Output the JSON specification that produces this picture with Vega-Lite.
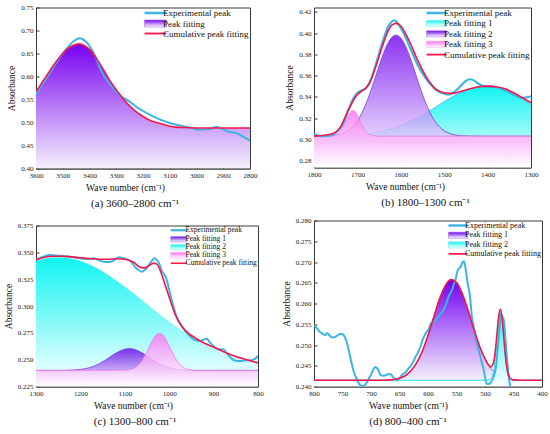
{
  "$schema": "https://vega.github.io/schema/vega-lite/v6.json",
  "background": "white",
  "padding": {"left": 2, "top": 2.5, "right": 0, "bottom": 0},
  "config": {
    "font": "Liberation Serif",
    "view": {"stroke": "#3a3a3a", "strokeWidth": 1},
    "axis": {
      "labelFont": "Liberation Serif", "labelFontSize": 7, "labelColor": "#222",
      "titleFont": "Liberation Serif", "titleFontSize": 9.5, "titleFontWeight": "normal", "titleColor": "#111",
      "grid": false, "domainColor": "#3a3a3a", "tickColor": "#3a3a3a", "tickSize": -3,
      "labelPadding": 6, "labelFlush": false, "labelOverlap": false, "titlePadding": 4
    },
    "legend": {"labelFont": "Liberation Serif", "labelColor": "#111", "orient": "top-right", "offset": 1, "padding": 0, "labelOffset": 3, "symbolOffset": 0},
    "title": {"font": "Liberation Serif", "fontSize": 11, "fontWeight": "normal", "color": "#111", "orient": "bottom", "offset": 6, "frame": "group"}
  },
  "datasets": {
    "a_exp": [
      {"x": 3600, "y": 0.561}, {"x": 3575, "y": 0.584}, {"x": 3550, "y": 0.606}, {"x": 3525, "y": 0.629},
      {"x": 3500, "y": 0.650}, {"x": 3480, "y": 0.664}, {"x": 3465, "y": 0.674}, {"x": 3450, "y": 0.680},
      {"x": 3438, "y": 0.683}, {"x": 3425, "y": 0.681}, {"x": 3410, "y": 0.674}, {"x": 3395, "y": 0.662},
      {"x": 3380, "y": 0.646}, {"x": 3360, "y": 0.617}, {"x": 3340, "y": 0.596}, {"x": 3320, "y": 0.580},
      {"x": 3300, "y": 0.567}, {"x": 3280, "y": 0.556}, {"x": 3260, "y": 0.549}, {"x": 3240, "y": 0.541},
      {"x": 3220, "y": 0.532}, {"x": 3200, "y": 0.525}, {"x": 3175, "y": 0.517}, {"x": 3150, "y": 0.510},
      {"x": 3125, "y": 0.504}, {"x": 3100, "y": 0.499}, {"x": 3075, "y": 0.495}, {"x": 3050, "y": 0.492},
      {"x": 3025, "y": 0.489}, {"x": 3000, "y": 0.485}, {"x": 2990, "y": 0.484}, {"x": 2975, "y": 0.485},
      {"x": 2950, "y": 0.486}, {"x": 2935, "y": 0.489}, {"x": 2925, "y": 0.491}, {"x": 2915, "y": 0.489},
      {"x": 2900, "y": 0.485}, {"x": 2880, "y": 0.480}, {"x": 2860, "y": 0.478}, {"x": 2850, "y": 0.477},
      {"x": 2840, "y": 0.474}, {"x": 2820, "y": 0.467}, {"x": 2800, "y": 0.461}
    ],
    "a_fit": [
      {"x": 3600, "y": 0.567}, {"x": 3575, "y": 0.589}, {"x": 3550, "y": 0.611}, {"x": 3525, "y": 0.632},
      {"x": 3500, "y": 0.650}, {"x": 3475, "y": 0.663}, {"x": 3450, "y": 0.670}, {"x": 3440, "y": 0.671},
      {"x": 3425, "y": 0.669}, {"x": 3400, "y": 0.659}, {"x": 3375, "y": 0.640}, {"x": 3350, "y": 0.617},
      {"x": 3325, "y": 0.592}, {"x": 3300, "y": 0.571}, {"x": 3275, "y": 0.552}, {"x": 3250, "y": 0.536},
      {"x": 3225, "y": 0.523}, {"x": 3200, "y": 0.513}, {"x": 3175, "y": 0.505}, {"x": 3150, "y": 0.500},
      {"x": 3125, "y": 0.496}, {"x": 3100, "y": 0.492}, {"x": 3075, "y": 0.490}, {"x": 3050, "y": 0.489},
      {"x": 3000, "y": 0.488}, {"x": 2900, "y": 0.488}, {"x": 2800, "y": 0.488}
    ],
    "b_exp": [
      {"x": 1800, "y": 0.305}, {"x": 1790, "y": 0.3035}, {"x": 1780, "y": 0.303}, {"x": 1760, "y": 0.304},
      {"x": 1750, "y": 0.306}, {"x": 1740, "y": 0.310}, {"x": 1730, "y": 0.317}, {"x": 1720, "y": 0.328},
      {"x": 1710, "y": 0.338}, {"x": 1700, "y": 0.3435}, {"x": 1690, "y": 0.346}, {"x": 1680, "y": 0.348},
      {"x": 1670, "y": 0.355}, {"x": 1660, "y": 0.367}, {"x": 1650, "y": 0.381}, {"x": 1640, "y": 0.394},
      {"x": 1630, "y": 0.4055}, {"x": 1620, "y": 0.411}, {"x": 1615, "y": 0.412}, {"x": 1610, "y": 0.4105},
      {"x": 1600, "y": 0.4045}, {"x": 1590, "y": 0.397}, {"x": 1580, "y": 0.3875}, {"x": 1570, "y": 0.378},
      {"x": 1560, "y": 0.369}, {"x": 1550, "y": 0.362}, {"x": 1540, "y": 0.356}, {"x": 1530, "y": 0.351},
      {"x": 1520, "y": 0.347}, {"x": 1510, "y": 0.3445}, {"x": 1500, "y": 0.343}, {"x": 1490, "y": 0.342},
      {"x": 1480, "y": 0.3435}, {"x": 1470, "y": 0.347}, {"x": 1460, "y": 0.351}, {"x": 1450, "y": 0.355},
      {"x": 1440, "y": 0.3565}, {"x": 1430, "y": 0.355}, {"x": 1420, "y": 0.352}, {"x": 1410, "y": 0.350},
      {"x": 1400, "y": 0.3495}, {"x": 1390, "y": 0.3495}, {"x": 1380, "y": 0.349}, {"x": 1370, "y": 0.3475},
      {"x": 1360, "y": 0.346}, {"x": 1350, "y": 0.344}, {"x": 1340, "y": 0.342}, {"x": 1330, "y": 0.340},
      {"x": 1320, "y": 0.339}, {"x": 1310, "y": 0.3395}, {"x": 1300, "y": 0.3405}
    ],
    "b_cum": [
      {"x": 1800, "y": 0.303}, {"x": 1760, "y": 0.305}, {"x": 1740, "y": 0.311}, {"x": 1720, "y": 0.3283},
      {"x": 1700, "y": 0.3422}, {"x": 1690, "y": 0.3453}, {"x": 1680, "y": 0.3485}, {"x": 1670, "y": 0.3547},
      {"x": 1660, "y": 0.3656}, {"x": 1640, "y": 0.3905}, {"x": 1630, "y": 0.4013}, {"x": 1620, "y": 0.4076},
      {"x": 1610, "y": 0.4091}, {"x": 1600, "y": 0.4066}, {"x": 1580, "y": 0.392}, {"x": 1560, "y": 0.3733},
      {"x": 1540, "y": 0.3578}, {"x": 1520, "y": 0.3475}, {"x": 1500, "y": 0.3438}, {"x": 1480, "y": 0.3432},
      {"x": 1460, "y": 0.3453}, {"x": 1440, "y": 0.3475}, {"x": 1420, "y": 0.3494}, {"x": 1400, "y": 0.350},
      {"x": 1380, "y": 0.3494}, {"x": 1360, "y": 0.3475}, {"x": 1340, "y": 0.3438}, {"x": 1320, "y": 0.3391},
      {"x": 1300, "y": 0.3345}
    ],
    "b_p1": [
      {"x": 1800, "y": 0.3031}, {"x": 1750, "y": 0.3033}, {"x": 1700, "y": 0.3043}, {"x": 1680, "y": 0.3051},
      {"x": 1660, "y": 0.3062}, {"x": 1640, "y": 0.3078}, {"x": 1620, "y": 0.3100}, {"x": 1600, "y": 0.3128},
      {"x": 1580, "y": 0.3163}, {"x": 1560, "y": 0.3204}, {"x": 1540, "y": 0.3251}, {"x": 1520, "y": 0.3302},
      {"x": 1500, "y": 0.3354}, {"x": 1480, "y": 0.3403}, {"x": 1460, "y": 0.3445}, {"x": 1440, "y": 0.3477},
      {"x": 1420, "y": 0.3496}, {"x": 1405, "y": 0.3500}, {"x": 1380, "y": 0.3488}, {"x": 1360, "y": 0.3462},
      {"x": 1340, "y": 0.3425}, {"x": 1320, "y": 0.3379}, {"x": 1300, "y": 0.3330}
    ],
    "b_p2": [
      {"x": 1800, "y": 0.3030}, {"x": 1760, "y": 0.3035}, {"x": 1740, "y": 0.3048}, {"x": 1720, "y": 0.3086},
      {"x": 1700, "y": 0.3174}, {"x": 1690, "y": 0.3245}, {"x": 1680, "y": 0.3336}, {"x": 1670, "y": 0.3445},
      {"x": 1660, "y": 0.3566}, {"x": 1650, "y": 0.3691}, {"x": 1640, "y": 0.3808}, {"x": 1630, "y": 0.3902},
      {"x": 1620, "y": 0.3962}, {"x": 1611, "y": 0.3980}, {"x": 1600, "y": 0.3953}, {"x": 1590, "y": 0.3885},
      {"x": 1580, "y": 0.3786}, {"x": 1570, "y": 0.3667}, {"x": 1560, "y": 0.3541}, {"x": 1550, "y": 0.3422},
      {"x": 1540, "y": 0.3316}, {"x": 1530, "y": 0.3229}, {"x": 1520, "y": 0.3162}, {"x": 1510, "y": 0.3114},
      {"x": 1500, "y": 0.3081}, {"x": 1480, "y": 0.3046}, {"x": 1460, "y": 0.3034}, {"x": 1440, "y": 0.3031},
      {"x": 1400, "y": 0.3030}, {"x": 1300, "y": 0.3030}
    ],
    "b_p3": [
      {"x": 1800, "y": 0.3030}, {"x": 1770, "y": 0.3030}, {"x": 1760, "y": 0.3032}, {"x": 1750, "y": 0.3041},
      {"x": 1740, "y": 0.3071}, {"x": 1735, "y": 0.3101}, {"x": 1730, "y": 0.3140}, {"x": 1725, "y": 0.3185},
      {"x": 1720, "y": 0.3227}, {"x": 1715, "y": 0.3259}, {"x": 1710, "y": 0.3270}, {"x": 1705, "y": 0.3259},
      {"x": 1700, "y": 0.3227}, {"x": 1695, "y": 0.3185}, {"x": 1690, "y": 0.3140}, {"x": 1685, "y": 0.3101},
      {"x": 1680, "y": 0.3071}, {"x": 1670, "y": 0.3041}, {"x": 1660, "y": 0.3032}, {"x": 1650, "y": 0.3030},
      {"x": 1300, "y": 0.3030}
    ],
    "c_exp": [
      {"x": 1300, "y": 0.343}, {"x": 1290, "y": 0.345}, {"x": 1280, "y": 0.3465}, {"x": 1270, "y": 0.3475},
      {"x": 1255, "y": 0.347}, {"x": 1240, "y": 0.3465}, {"x": 1225, "y": 0.346}, {"x": 1210, "y": 0.345},
      {"x": 1195, "y": 0.344}, {"x": 1180, "y": 0.3438}, {"x": 1170, "y": 0.3445}, {"x": 1160, "y": 0.343},
      {"x": 1150, "y": 0.3415}, {"x": 1140, "y": 0.341}, {"x": 1130, "y": 0.3415}, {"x": 1120, "y": 0.344},
      {"x": 1113, "y": 0.3455}, {"x": 1105, "y": 0.3448}, {"x": 1095, "y": 0.3435}, {"x": 1085, "y": 0.341},
      {"x": 1078, "y": 0.337}, {"x": 1070, "y": 0.3338}, {"x": 1062, "y": 0.332}, {"x": 1055, "y": 0.3335},
      {"x": 1048, "y": 0.337}, {"x": 1040, "y": 0.3415}, {"x": 1034, "y": 0.3445}, {"x": 1028, "y": 0.343},
      {"x": 1022, "y": 0.339}, {"x": 1016, "y": 0.332}, {"x": 1010, "y": 0.329}, {"x": 1005, "y": 0.3235},
      {"x": 1000, "y": 0.315}, {"x": 995, "y": 0.3065}, {"x": 990, "y": 0.299}, {"x": 985, "y": 0.292},
      {"x": 980, "y": 0.287}, {"x": 975, "y": 0.2835}, {"x": 970, "y": 0.280}, {"x": 965, "y": 0.2775},
      {"x": 960, "y": 0.275}, {"x": 950, "y": 0.2705}, {"x": 940, "y": 0.268}, {"x": 930, "y": 0.2675},
      {"x": 923, "y": 0.2685}, {"x": 916, "y": 0.2695}, {"x": 910, "y": 0.267}, {"x": 905, "y": 0.2645},
      {"x": 900, "y": 0.2625}, {"x": 893, "y": 0.2605}, {"x": 885, "y": 0.2595}, {"x": 878, "y": 0.2598},
      {"x": 872, "y": 0.257}, {"x": 865, "y": 0.2535}, {"x": 858, "y": 0.2505}, {"x": 850, "y": 0.249},
      {"x": 840, "y": 0.2488}, {"x": 830, "y": 0.2492}, {"x": 820, "y": 0.2495}, {"x": 812, "y": 0.2498},
      {"x": 806, "y": 0.251}, {"x": 800, "y": 0.2535}
    ],
    "c_cum": [
      {"x": 1300, "y": 0.343}, {"x": 1280, "y": 0.3455}, {"x": 1260, "y": 0.3464}, {"x": 1240, "y": 0.3464},
      {"x": 1220, "y": 0.3458}, {"x": 1200, "y": 0.3449}, {"x": 1180, "y": 0.3442}, {"x": 1160, "y": 0.3436},
      {"x": 1140, "y": 0.3436}, {"x": 1120, "y": 0.344}, {"x": 1100, "y": 0.3436}, {"x": 1080, "y": 0.3408},
      {"x": 1065, "y": 0.336}, {"x": 1055, "y": 0.3355}, {"x": 1045, "y": 0.3377}, {"x": 1035, "y": 0.3399},
      {"x": 1028, "y": 0.339}, {"x": 1020, "y": 0.333}, {"x": 1010, "y": 0.3207}, {"x": 1000, "y": 0.3082},
      {"x": 990, "y": 0.2958}, {"x": 980, "y": 0.2865}, {"x": 970, "y": 0.2803}, {"x": 960, "y": 0.2756},
      {"x": 950, "y": 0.2725}, {"x": 925, "y": 0.2663}, {"x": 900, "y": 0.2616}, {"x": 875, "y": 0.257},
      {"x": 850, "y": 0.253}, {"x": 825, "y": 0.2499}, {"x": 800, "y": 0.247}
    ],
    "c_p1": [
      {"x": 1300, "y": 0.240}, {"x": 1240, "y": 0.240}, {"x": 1230, "y": 0.2401}, {"x": 1200, "y": 0.2409},
      {"x": 1180, "y": 0.2425}, {"x": 1160, "y": 0.2457}, {"x": 1140, "y": 0.2506}, {"x": 1120, "y": 0.2561},
      {"x": 1100, "y": 0.2598}, {"x": 1090, "y": 0.2603}, {"x": 1080, "y": 0.2598}, {"x": 1060, "y": 0.2561},
      {"x": 1040, "y": 0.2506}, {"x": 1020, "y": 0.2457}, {"x": 1000, "y": 0.2425}, {"x": 980, "y": 0.2409},
      {"x": 960, "y": 0.2401}, {"x": 940, "y": 0.240}, {"x": 800, "y": 0.240}
    ],
    "c_p2": [
      {"x": 1300, "y": 0.3420}, {"x": 1275, "y": 0.3446}, {"x": 1250, "y": 0.3455}, {"x": 1225, "y": 0.3446},
      {"x": 1200, "y": 0.3420}, {"x": 1175, "y": 0.3378}, {"x": 1150, "y": 0.3322}, {"x": 1125, "y": 0.3255},
      {"x": 1100, "y": 0.3180}, {"x": 1075, "y": 0.3100}, {"x": 1050, "y": 0.3017}, {"x": 1025, "y": 0.2935},
      {"x": 1000, "y": 0.2856}, {"x": 975, "y": 0.2782}, {"x": 950, "y": 0.2715}, {"x": 925, "y": 0.2656},
      {"x": 900, "y": 0.2604}, {"x": 875, "y": 0.2560}, {"x": 850, "y": 0.2523}, {"x": 825, "y": 0.2493},
      {"x": 800, "y": 0.2470}
    ],
    "c_p3": [
      {"x": 1300, "y": 0.240}, {"x": 1100, "y": 0.2402}, {"x": 1080, "y": 0.2419}, {"x": 1070, "y": 0.2447},
      {"x": 1060, "y": 0.2499}, {"x": 1050, "y": 0.2575}, {"x": 1040, "y": 0.2660}, {"x": 1030, "y": 0.2726},
      {"x": 1022, "y": 0.2745}, {"x": 1015, "y": 0.2731}, {"x": 1005, "y": 0.2668}, {"x": 995, "y": 0.2583},
      {"x": 985, "y": 0.2505}, {"x": 975, "y": 0.2451}, {"x": 965, "y": 0.2421}, {"x": 950, "y": 0.2404},
      {"x": 940, "y": 0.240}, {"x": 800, "y": 0.240}
    ],
    "d_exp": [
      {"x": 800, "y": 0.2547}, {"x": 798, "y": 0.2545}, {"x": 790, "y": 0.2532}, {"x": 786, "y": 0.2528},
      {"x": 780, "y": 0.2524}, {"x": 777, "y": 0.2529}, {"x": 772, "y": 0.2522}, {"x": 768, "y": 0.2518},
      {"x": 762, "y": 0.2520}, {"x": 757, "y": 0.2525}, {"x": 752, "y": 0.2527}, {"x": 748, "y": 0.2524},
      {"x": 742, "y": 0.2504}, {"x": 736, "y": 0.2468}, {"x": 730, "y": 0.2435}, {"x": 725, "y": 0.2418},
      {"x": 721, "y": 0.2407}, {"x": 716, "y": 0.2401}, {"x": 711, "y": 0.2403}, {"x": 707, "y": 0.2411},
      {"x": 703, "y": 0.2421}, {"x": 699, "y": 0.2431}, {"x": 695, "y": 0.2443}, {"x": 693, "y": 0.2447},
      {"x": 689, "y": 0.2444}, {"x": 686, "y": 0.2436}, {"x": 683, "y": 0.2427}, {"x": 678, "y": 0.2426},
      {"x": 674, "y": 0.2427}, {"x": 669, "y": 0.2430}, {"x": 665, "y": 0.2429}, {"x": 662, "y": 0.2424},
      {"x": 659, "y": 0.2419}, {"x": 654, "y": 0.2415}, {"x": 650, "y": 0.2420}, {"x": 646, "y": 0.2427},
      {"x": 642, "y": 0.2432}, {"x": 639, "y": 0.2435}, {"x": 634, "y": 0.2444}, {"x": 630, "y": 0.2450},
      {"x": 628, "y": 0.2455}, {"x": 625, "y": 0.2462}, {"x": 622, "y": 0.2471}, {"x": 619, "y": 0.2478},
      {"x": 616, "y": 0.2487}, {"x": 613, "y": 0.2497}, {"x": 610, "y": 0.2511}, {"x": 607, "y": 0.2520},
      {"x": 604, "y": 0.2528}, {"x": 601, "y": 0.2534}, {"x": 598, "y": 0.2540}, {"x": 596, "y": 0.2550},
      {"x": 593, "y": 0.2553}, {"x": 590, "y": 0.2555}, {"x": 587, "y": 0.2558}, {"x": 583, "y": 0.2565},
      {"x": 579, "y": 0.2572}, {"x": 575, "y": 0.2580}, {"x": 570, "y": 0.2592}, {"x": 567, "y": 0.2604},
      {"x": 564, "y": 0.2616}, {"x": 561, "y": 0.2624}, {"x": 558, "y": 0.2632}, {"x": 555, "y": 0.2645},
      {"x": 552, "y": 0.2656}, {"x": 548, "y": 0.2680}, {"x": 545, "y": 0.2685}, {"x": 543, "y": 0.2688},
      {"x": 539, "y": 0.2700}, {"x": 537, "y": 0.2702}, {"x": 535, "y": 0.2692}, {"x": 532, "y": 0.2664},
      {"x": 530, "y": 0.2645}, {"x": 527, "y": 0.2624}, {"x": 525, "y": 0.2598}, {"x": 523, "y": 0.2568},
      {"x": 520, "y": 0.2545}, {"x": 517, "y": 0.2519}, {"x": 514, "y": 0.2503}, {"x": 511, "y": 0.2487},
      {"x": 508, "y": 0.2471}, {"x": 505, "y": 0.2455}, {"x": 502, "y": 0.2439}, {"x": 500, "y": 0.2423},
      {"x": 497, "y": 0.2407}, {"x": 494, "y": 0.2406}, {"x": 491, "y": 0.2408}, {"x": 488, "y": 0.2414},
      {"x": 485, "y": 0.2423}, {"x": 482, "y": 0.2438}, {"x": 480, "y": 0.2455}, {"x": 478, "y": 0.2488},
      {"x": 476, "y": 0.2519}, {"x": 474, "y": 0.2550}, {"x": 472, "y": 0.2576}, {"x": 470, "y": 0.2570},
      {"x": 467, "y": 0.2560}, {"x": 465, "y": 0.2530}, {"x": 463, "y": 0.2495}, {"x": 461, "y": 0.2462},
      {"x": 459, "y": 0.2431}, {"x": 457, "y": 0.2410}, {"x": 454, "y": 0.2391}, {"x": 451, "y": 0.2370},
      {"x": 448, "y": 0.2350}
    ],
    "d_cum": [
      {"x": 800, "y": 0.2415}, {"x": 680, "y": 0.2415}, {"x": 660, "y": 0.2417}, {"x": 650, "y": 0.2420},
      {"x": 640, "y": 0.2426}, {"x": 630, "y": 0.2438}, {"x": 620, "y": 0.2457}, {"x": 610, "y": 0.2485},
      {"x": 600, "y": 0.2523}, {"x": 590, "y": 0.2567}, {"x": 580, "y": 0.2610}, {"x": 570, "y": 0.2642},
      {"x": 560, "y": 0.2658}, {"x": 550, "y": 0.2651}, {"x": 540, "y": 0.2624}, {"x": 530, "y": 0.2585},
      {"x": 520, "y": 0.2540}, {"x": 510, "y": 0.2499}, {"x": 500, "y": 0.2467}, {"x": 490, "y": 0.2447},
      {"x": 485, "y": 0.2458}, {"x": 482, "y": 0.2485}, {"x": 479, "y": 0.2527}, {"x": 476, "y": 0.2569},
      {"x": 473, "y": 0.2586}, {"x": 470, "y": 0.2565}, {"x": 467, "y": 0.2518}, {"x": 464, "y": 0.2472},
      {"x": 461, "y": 0.2440}, {"x": 456, "y": 0.2420}, {"x": 450, "y": 0.2416}, {"x": 440, "y": 0.2415},
      {"x": 400, "y": 0.2415}
    ],
    "d_p1": [
      {"x": 800, "y": 0.2415}, {"x": 680, "y": 0.2415}, {"x": 660, "y": 0.2417}, {"x": 650, "y": 0.2420},
      {"x": 640, "y": 0.2426}, {"x": 630, "y": 0.2438}, {"x": 620, "y": 0.2457}, {"x": 610, "y": 0.2485},
      {"x": 600, "y": 0.2523}, {"x": 590, "y": 0.2567}, {"x": 580, "y": 0.2610}, {"x": 570, "y": 0.2642},
      {"x": 560, "y": 0.2658}, {"x": 550, "y": 0.2651}, {"x": 540, "y": 0.2624}, {"x": 530, "y": 0.2585},
      {"x": 520, "y": 0.2540}, {"x": 510, "y": 0.2499}, {"x": 500, "y": 0.2467}, {"x": 490, "y": 0.2444},
      {"x": 480, "y": 0.2430}, {"x": 470, "y": 0.2422}, {"x": 460, "y": 0.2418}, {"x": 450, "y": 0.2416},
      {"x": 440, "y": 0.2415}, {"x": 400, "y": 0.2415}
    ],
    "d_p2": [
      {"x": 800, "y": 0.2415}, {"x": 500, "y": 0.2415}, {"x": 490, "y": 0.2418}, {"x": 485, "y": 0.2437},
      {"x": 482, "y": 0.2468}, {"x": 479, "y": 0.2513}, {"x": 476, "y": 0.2558}, {"x": 473, "y": 0.2577},
      {"x": 470, "y": 0.2558}, {"x": 467, "y": 0.2513}, {"x": 464, "y": 0.2468}, {"x": 461, "y": 0.2437},
      {"x": 456, "y": 0.2418}, {"x": 450, "y": 0.2415}, {"x": 400, "y": 0.2415}
    ]
  },
  "resolve": {"scale": {"color": "independent"}, "legend": {"color": "independent"}},
  "spacing": 16,
  "hconcat": [
    {
      "bounds": "flush",
      "spacing": 57,
      "resolve": {"scale": {"color": "independent"}, "legend": {"color": "independent"}},
      "vconcat": [
        {
          "width": 214,
          "height": 161,
          "title": {"text": "(a) 3600–2800 cm⁻¹", "dx": -8},
          "layer": [
            {
              "data": {"name": "a_fit"},
              "mark": {"type": "area", "clip": true, "interpolate": "monotone", "opacity": 1,
                "fill": {"gradient": "linear", "x1": 0, "y1": 0, "x2": 0, "y2": 1, "stops": [{"offset": 0, "color": "#7800f0"}, {"offset": 1, "color": "#f6f1fd"}]}},
              "encoding": {
                "x": {"field": "x", "type": "quantitative", "scale": {"domain": [2800, 3600], "reverse": true, "nice": false, "zero": false},
                  "axis": {"values": [3600, 3500, 3400, 3300, 3200, 3100, 3000, 2900, 2800], "tickCount": 20, "format": "d", "title": "Wave number (cm⁻¹)", "titleX": 89, "labelOverlap": false, "labelFlush": false}},
                "y": {"field": "y", "type": "quantitative", "stack": null, "scale": {"domain": [0.4, 0.75], "nice": false, "zero": false},
                  "axis": {"values": [0.4, 0.45, 0.5, 0.55, 0.6, 0.65, 0.7, 0.75], "tickCount": 20, "format": ".2f", "title": "Absorbance", "labelOverlap": false, "labelFlush": false}}
              }
            },
            {
              "data": {"name": "a_exp"},
              "mark": {"type": "line", "clip": true, "interpolate": "monotone", "strokeWidth": 2},
              "encoding": {
                "x": {"field": "x", "type": "quantitative"},
                "y": {"field": "y", "type": "quantitative"},
                "color": {"datum": "Experimental peak",
                  "scale": {"domain": ["Experimental peak", "Peak fitting", "Cumulative peak fitting"], "range": ["#3cb4e5", "#a27ae8", "#f5174a"]},
                  "legend": {"title": null, "labelFontSize": 9, "symbolSize": 484, "rowPadding": -0.5,
                    "symbolType": {"expr": "datum.value == 'Peak fitting' ? 'M-1,-0.32H1V0.32H-1Z' : 'stroke'"},
                    "symbolFillColor": {"expr": "datum.value == 'Peak fitting' ? {'gradient':'linear','x1':0,'y1':0,'x2':0,'y2':1,'stops':[{'offset':0,'color':'#7800f0'},{'offset':1,'color':'#ffffff'}]} : 'transparent'"},
                    "symbolStrokeWidth": {"expr": "datum.value == 'Experimental peak' ? 2.5 : datum.value == 'Cumulative peak fitting' ? 1.8 : 0.6"}}
                }
              }
            },
            {
              "data": {"name": "a_fit"},
              "mark": {"type": "line", "clip": true, "interpolate": "monotone", "strokeWidth": 1.6},
              "encoding": {
                "x": {"field": "x", "type": "quantitative"},
                "y": {"field": "y", "type": "quantitative"},
                "color": {"datum": "Cumulative peak fitting"}
              }
            }
          ]
        },
        {
          "width": 222,
          "height": 161,
          "title": {"text": "(c) 1300–800 cm⁻¹", "dx": -12},
          "layer": [
            {
              "data": {"name": "c_p2"},
              "mark": {"type": "area", "clip": true, "interpolate": "monotone", "opacity": 1,
                "fill": {"gradient": "linear", "x1": 0, "y1": 0, "x2": 0, "y2": 1, "stops": [{"offset": 0, "color": "#10f4f2"}, {"offset": 1, "color": "#ffffff"}]}},
              "encoding": {
                "x": {"field": "x", "type": "quantitative", "scale": {"domain": [800, 1300], "reverse": true, "nice": false, "zero": false},
                  "axis": {"values": [1300, 1200, 1100, 1000, 900, 800], "tickCount": 20, "format": "d", "title": "Wave number (cm⁻¹)", "titleX": 97, "labelOverlap": false, "labelFlush": false}},
                "y": {"field": "y", "type": "quantitative", "stack": null, "scale": {"domain": [0.225, 0.375], "nice": false, "zero": false},
                  "axis": {"values": [0.225, 0.25, 0.275, 0.3, 0.325, 0.35, 0.375], "tickCount": 20, "format": ".3f", "title": "Absorbance", "labelOverlap": false, "labelFlush": false}}
              }
            },
            {
              "data": {"name": "c_p1"},
              "mark": {"type": "area", "clip": true, "interpolate": "monotone", "opacity": 0.85, "line": {"color": "#7440d8", "strokeWidth": 0.8},
                "fill": {"gradient": "linear", "x1": 0, "y1": 0, "x2": 0, "y2": 1, "stops": [{"offset": 0, "color": "#6a10e8"}, {"offset": 1, "color": "#ffffff"}]}},
              "encoding": {"x": {"field": "x", "type": "quantitative"}, "y": {"field": "y", "type": "quantitative", "stack": null}}
            },
            {
              "data": {"name": "c_p3"},
              "mark": {"type": "area", "clip": true, "interpolate": "monotone", "opacity": 0.8, "line": {"color": "#f07ae8", "strokeWidth": 0.8},
                "fill": {"gradient": "linear", "x1": 0, "y1": 0, "x2": 0, "y2": 1, "stops": [{"offset": 0, "color": "#ff6ff2"}, {"offset": 1, "color": "#ffffff"}]}},
              "encoding": {"x": {"field": "x", "type": "quantitative"}, "y": {"field": "y", "type": "quantitative", "stack": null}}
            },
            {
              "data": {"name": "c_exp"},
              "mark": {"type": "line", "clip": true, "interpolate": "monotone", "strokeWidth": 2},
              "encoding": {
                "x": {"field": "x", "type": "quantitative"},
                "y": {"field": "y", "type": "quantitative"},
                "color": {"datum": "Experimental peak",
                  "scale": {"domain": ["Experimental peak", "Peak fitting 1", "Peak fitting 2", "Peak fitting 3", "Cumulative peak fitting"], "range": ["#3cb4e5", "#a27ae8", "#7ee6f0", "#f7a8ef", "#f5174a"]},
                  "legend": {"title": null, "labelFontSize": 7.5, "symbolSize": 256, "rowPadding": -1.9,
                    "symbolType": {"expr": "indexof(datum.value, 'Peak') == 0 ? 'M-1,-0.34H1V0.34H-1Z' : 'stroke'"},
                    "symbolFillColor": {"expr": "datum.value == 'Peak fitting 1' ? {'gradient':'linear','x1':0,'y1':0,'x2':0,'y2':1,'stops':[{'offset':0,'color':'#6a10e8'},{'offset':1,'color':'#ffffff'}]} : datum.value == 'Peak fitting 2' ? {'gradient':'linear','x1':0,'y1':0,'x2':0,'y2':1,'stops':[{'offset':0,'color':'#10f4f2'},{'offset':1,'color':'#ffffff'}]} : datum.value == 'Peak fitting 3' ? {'gradient':'linear','x1':0,'y1':0,'x2':0,'y2':1,'stops':[{'offset':0,'color':'#ff6ff2'},{'offset':1,'color':'#ffffff'}]} : 'transparent'"},
                    "symbolStrokeWidth": {"expr": "datum.value == 'Experimental peak' ? 2.2 : datum.value == 'Cumulative peak fitting' ? 1.6 : 0.6"}}
                }
              }
            },
            {
              "data": {"name": "c_cum"},
              "mark": {"type": "line", "clip": true, "interpolate": "monotone", "strokeWidth": 1.6},
              "encoding": {
                "x": {"field": "x", "type": "quantitative"},
                "y": {"field": "y", "type": "quantitative"},
                "color": {"datum": "Cumulative peak fitting"}
              }
            }
          ]
        }
      ]
    },
    {
      "bounds": "flush",
      "spacing": 53,
      "resolve": {"scale": {"color": "independent"}, "legend": {"color": "independent"}},
      "vconcat": [
        {
          "width": 217,
          "height": 160,
          "title": {"text": "(b) 1800–1300 cm⁻¹", "dx": 3},
          "layer": [
            {
              "data": {"name": "b_p1"},
              "mark": {"type": "area", "clip": true, "interpolate": "monotone", "opacity": 1, "line": {"color": "#3cb4e5", "strokeWidth": 0.8},
                "fill": {"gradient": "linear", "x1": 0, "y1": 0, "x2": 0, "y2": 1, "stops": [{"offset": 0, "color": "#10f4f2"}, {"offset": 1, "color": "#ffffff"}]}},
              "encoding": {
                "x": {"field": "x", "type": "quantitative", "scale": {"domain": [1300, 1800], "reverse": true, "nice": false, "zero": false},
                  "axis": {"values": [1800, 1700, 1600, 1500, 1400, 1300], "tickCount": 20, "format": "d", "title": "Wave number (cm⁻¹)", "titleX": 91, "labelOverlap": false, "labelFlush": false}},
                "y": {"field": "y", "type": "quantitative", "stack": null, "scale": {"domain": [0.2735, 0.424], "nice": false, "zero": false},
                  "axis": {"values": [0.28, 0.3, 0.32, 0.34, 0.36, 0.38, 0.4, 0.42], "tickCount": 20, "format": ".2f", "title": "Absorbance", "labelOverlap": false, "labelFlush": false}}
              }
            },
            {
              "data": {"name": "b_p2"},
              "mark": {"type": "area", "clip": true, "interpolate": "monotone", "opacity": 0.8, "line": {"color": "#7440d8", "strokeWidth": 0.8},
                "fill": {"gradient": "linear", "x1": 0, "y1": 0, "x2": 0, "y2": 1, "stops": [{"offset": 0, "color": "#7000f0"}, {"offset": 1, "color": "#ffffff"}]}},
              "encoding": {"x": {"field": "x", "type": "quantitative"}, "y": {"field": "y", "type": "quantitative", "stack": null}}
            },
            {
              "data": {"name": "b_p3"},
              "mark": {"type": "area", "clip": true, "interpolate": "monotone", "opacity": 0.8, "line": {"color": "#f07ae8", "strokeWidth": 0.8},
                "fill": {"gradient": "linear", "x1": 0, "y1": 0, "x2": 0, "y2": 1, "stops": [{"offset": 0, "color": "#ff6ff2"}, {"offset": 1, "color": "#ffffff"}]}},
              "encoding": {"x": {"field": "x", "type": "quantitative"}, "y": {"field": "y", "type": "quantitative", "stack": null}}
            },
            {
              "data": {"name": "b_exp"},
              "mark": {"type": "line", "clip": true, "interpolate": "monotone", "strokeWidth": 2.2},
              "encoding": {
                "x": {"field": "x", "type": "quantitative"},
                "y": {"field": "y", "type": "quantitative"},
                "color": {"datum": "Experimental peak",
                  "scale": {"domain": ["Experimental peak", "Peak fitting 1", "Peak fitting 2", "Peak fitting 3", "Cumulative peak fitting"], "range": ["#3cb4e5", "#7ee6f0", "#a27ae8", "#f7a8ef", "#f5174a"]},
                  "legend": {"title": null, "labelFontSize": 9, "symbolSize": 400, "rowPadding": 0.4,
                    "symbolType": {"expr": "indexof(datum.value, 'Peak') == 0 ? 'M-1,-0.3H1V0.3H-1Z' : 'stroke'"},
                    "symbolFillColor": {"expr": "datum.value == 'Peak fitting 1' ? {'gradient':'linear','x1':0,'y1':0,'x2':0,'y2':1,'stops':[{'offset':0,'color':'#10f4f2'},{'offset':1,'color':'#ffffff'}]} : datum.value == 'Peak fitting 2' ? {'gradient':'linear','x1':0,'y1':0,'x2':0,'y2':1,'stops':[{'offset':0,'color':'#7000f0'},{'offset':1,'color':'#ffffff'}]} : datum.value == 'Peak fitting 3' ? {'gradient':'linear','x1':0,'y1':0,'x2':0,'y2':1,'stops':[{'offset':0,'color':'#ff6ff2'},{'offset':1,'color':'#ffffff'}]} : 'transparent'"},
                    "symbolStrokeWidth": {"expr": "datum.value == 'Experimental peak' ? 2.5 : datum.value == 'Cumulative peak fitting' ? 1.8 : 0.6"}}
                }
              }
            },
            {
              "data": {"name": "b_cum"},
              "mark": {"type": "line", "clip": true, "interpolate": "monotone", "strokeWidth": 1.6},
              "encoding": {
                "x": {"field": "x", "type": "quantitative"},
                "y": {"field": "y", "type": "quantitative"},
                "color": {"datum": "Cumulative peak fitting"}
              }
            }
          ]
        },
        {
          "width": 228,
          "height": 166,
          "title": {"text": "(d) 800–400 cm⁻¹", "dx": -20},
          "layer": [
            {
              "data": {"name": "d_p1"},
              "mark": {"type": "area", "clip": true, "interpolate": "monotone", "opacity": 1, "line": {"color": "#7440d8", "strokeWidth": 0.8},
                "fill": {"gradient": "linear", "x1": 0, "y1": 0, "x2": 0, "y2": 1, "stops": [{"offset": 0, "color": "#7000f0"}, {"offset": 1, "color": "#ffffff"}]}},
              "encoding": {
                "x": {"field": "x", "type": "quantitative", "scale": {"domain": [400, 800], "reverse": true, "nice": false, "zero": false},
                  "axis": {"values": [800, 750, 700, 650, 600, 550, 500, 450, 400], "tickCount": 20, "format": "d", "title": "Wave number (cm⁻¹)", "titleX": 94, "labelOverlap": false, "labelFlush": false}},
                "y": {"field": "y", "type": "quantitative", "stack": null, "scale": {"domain": [0.24, 0.28], "nice": false, "zero": false},
                  "axis": {"values": [0.24, 0.245, 0.25, 0.255, 0.26, 0.265, 0.27, 0.275, 0.28], "tickCount": 20, "format": ".3f", "title": "Absorbance", "labelOverlap": false, "labelFlush": false}}
              }
            },
            {
              "data": {"name": "d_p2"},
              "mark": {"type": "area", "clip": true, "interpolate": "monotone", "opacity": 0.9, "line": {"color": "#20e0e8", "strokeWidth": 1},
                "fill": {"gradient": "linear", "x1": 0, "y1": 0, "x2": 0, "y2": 1, "stops": [{"offset": 0, "color": "#10f4f2"}, {"offset": 1, "color": "#ffffff"}]}},
              "encoding": {"x": {"field": "x", "type": "quantitative"}, "y": {"field": "y", "type": "quantitative", "stack": null}}
            },
            {
              "data": {"name": "d_exp"},
              "mark": {"type": "line", "clip": true, "interpolate": "monotone", "strokeWidth": 2},
              "encoding": {
                "x": {"field": "x", "type": "quantitative"},
                "y": {"field": "y", "type": "quantitative"},
                "color": {"datum": "Experimental peak",
                  "scale": {"domain": ["Experimental peak", "Peak fitting 1", "Peak fitting 2", "Cumulative peak fitting"], "range": ["#3cb4e5", "#a27ae8", "#7ee6f0", "#f5174a"]},
                  "legend": {"title": null, "labelFontSize": 8, "symbolSize": 361, "rowPadding": -0.3,
                    "symbolType": {"expr": "indexof(datum.value, 'Peak') == 0 ? 'M-1,-0.32H1V0.32H-1Z' : 'stroke'"},
                    "symbolFillColor": {"expr": "datum.value == 'Peak fitting 1' ? {'gradient':'linear','x1':0,'y1':0,'x2':0,'y2':1,'stops':[{'offset':0,'color':'#7000f0'},{'offset':1,'color':'#ffffff'}]} : datum.value == 'Peak fitting 2' ? {'gradient':'linear','x1':0,'y1':0,'x2':0,'y2':1,'stops':[{'offset':0,'color':'#10f4f2'},{'offset':1,'color':'#ffffff'}]} : 'transparent'"},
                    "symbolStrokeWidth": {"expr": "datum.value == 'Experimental peak' ? 2.4 : datum.value == 'Cumulative peak fitting' ? 1.7 : 0.6"}}
                }
              }
            },
            {
              "data": {"name": "d_cum"},
              "mark": {"type": "line", "clip": true, "interpolate": "monotone", "strokeWidth": 1.6},
              "encoding": {
                "x": {"field": "x", "type": "quantitative"},
                "y": {"field": "y", "type": "quantitative"},
                "color": {"datum": "Cumulative peak fitting"}
              }
            }
          ]
        }
      ]
    }
  ]
}
